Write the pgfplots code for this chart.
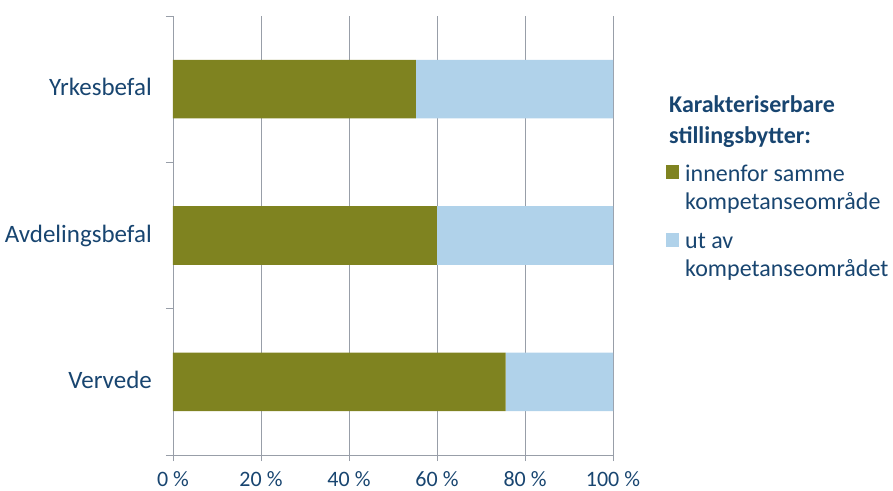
\documentclass[border=0pt]{standalone}
\usepackage{pgfplots}
\pgfplotsset{compat=1.18}
\usepackage{fontspec}
\setmainfont{Carlito}
\definecolor{txt}{RGB}{24,69,112}
\definecolor{grn}{RGB}{127,131,32}
\definecolor{lblue}{RGB}{176,210,234}
\definecolor{gridc}{RGB}{152,158,168}
\begin{document}
\begin{tikzpicture}
\begin{axis}[
  scale only axis, width=440bp, height=439bp,
  xbar stacked, bar width=0.4,
  xmin=0, xmax=100, ymin=-0.5, ymax=2.5,
  axis x line*=bottom, axis y line*=left,
  axis line style={gridc, line width=0.8bp, -},
  xtick={0,20,40,60,80,100},
  xticklabels={0 \%,20 \%,40 \%,60 \%,80 \%,100 \%},
  xmajorgrids, grid style={gridc, line width=0.8bp},
  ytick={0,1,2}, yticklabels={Vervede,Avdelingsbefal,Yrkesbefal},
  minor ytick={-0.5,0.5,1.5,2.5},
  tick align=outside, major tick length=6bp, minor tick length=7bp,
  major y tick style={draw=none},
  minor y tick style={gridc, line width=0.8bp},
  major x tick style={gridc, line width=0.8bp},
  xticklabel style={font=\fontsize{22bp}{26bp}\selectfont, text=txt, anchor=base, inner sep=0pt, yshift=-25.5bp},
  yticklabel style={font=\fontsize{25bp}{30bp}\selectfont, text=txt, anchor=base east, inner sep=0pt, yshift=-6.7bp, xshift=-15bp},
  legend style={draw=none, fill=none, inner sep=0pt, at={(1.1205,0.6727)}, anchor=north west,
    row sep=42bp, font=\fontsize{24bp}{28bp}\selectfont, text=txt,
    cells={anchor=base west, inner sep=0pt}},
  legend cell align=left,
  legend image code/.code={\fill[#1] (0bp,-7bp) rectangle (13bp,7bp); \path (17bp,0bp);},
]
\addplot[fill=grn, draw=none] coordinates {(75.6,0) (60.0,1) (55.2,2)};
\addlegendentry{\begin{tabular}[t]{@{}l@{}}innenfor samme\\kompetanseområde\end{tabular}}
\addplot[fill=lblue, draw=none] coordinates {(24.4,0) (40.0,1) (44.8,2)};
\addlegendentry{\begin{tabular}[t]{@{}l@{}}ut av\\kompetanseområdet\end{tabular}}
\end{axis}
\node[anchor=base west, inner sep=0pt, text=txt, font=\bfseries\fontsize{24bp}{31bp}\selectfont] at (496bp,342bp)
  {\begin{tabular}[t]{@{}l@{}}Karakteriserbare\\stillingsbytter:\end{tabular}};
\pgfresetboundingbox
\path (-173bp,-36bp) rectangle (720bp,455bp);
\end{tikzpicture}
\end{document}
